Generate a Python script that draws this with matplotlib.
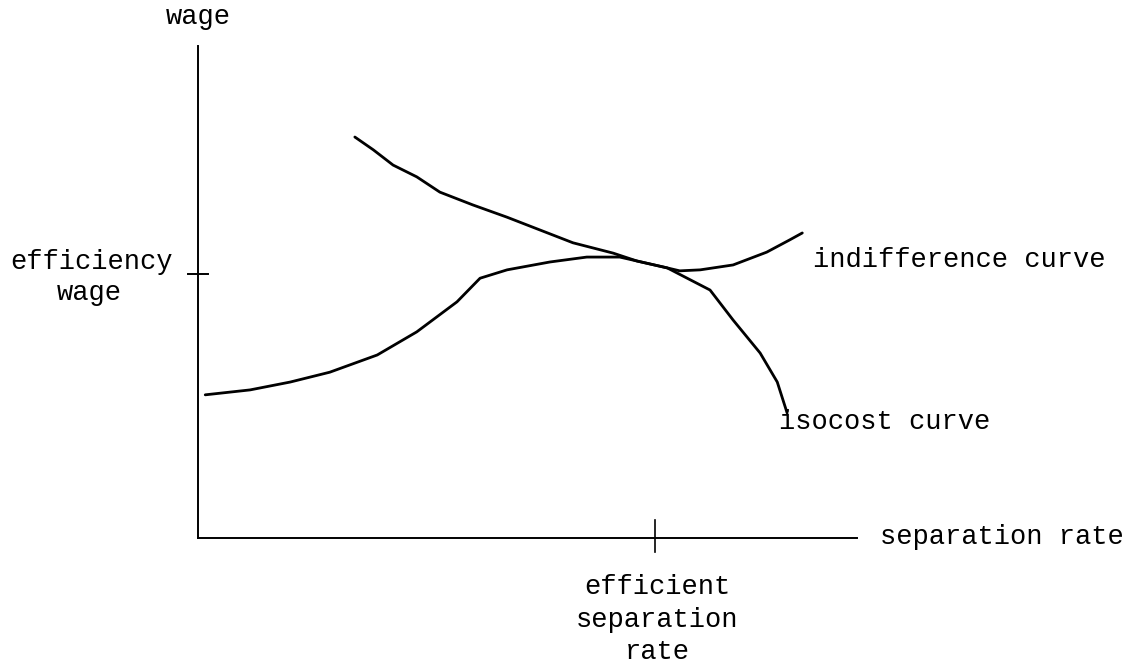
import matplotlib.pyplot as plt

# hand-drawn curves (x: separation rate, y: wage, 0-100 units)
indiff_x = [23.8, 26.6, 29.6, 33.2, 36.7, 41.7, 46.9, 51.9, 56.9, 63.0, 66.6,
            71.2, 73.1, 76.2, 81.2, 86.3, 89.8, 91.7]
indiff_y = [81.5, 78.9, 75.8, 73.4, 70.3, 67.7, 65.2, 62.6, 60.0, 57.9, 56.3,
            54.9, 54.3, 54.5, 55.5, 58.1, 60.6, 62.0]

isocost_x = [1.1, 7.9, 14.0, 20.0, 27.2, 33.2, 39.3, 42.8, 46.9, 53.4, 59.0,
             64.0, 71.2, 77.7, 81.2, 85.3, 87.9, 89.4]
isocost_y = [29.1, 30.1, 31.7, 33.7, 37.2, 41.9, 48.0, 52.8, 54.5, 56.1, 57.1,
             57.1, 54.9, 50.4, 44.3, 37.6, 31.7, 25.4]

eff_wage = 53.7
eff_sep = 69.3

plt.rcParams['font.family'] = ['Liberation Mono', 'DejaVu Sans Mono']
fs = 19.5

fig = plt.figure(figsize=(11.28, 6.68), dpi=100)
ax = fig.add_axes([198 / 1128, 130 / 668, 659 / 1128, 492 / 668])
ax.set_xlim(0, 100)
ax.set_ylim(0, 100)
ax.axis('off')

# axes drawn by hand
ax.plot([0, 0], [0, 100], color='black', lw=1.4, clip_on=False)
ax.plot([0, 100], [0, 0], color='black', lw=1.4, clip_on=False)
ax.plot([-1.5, 1.5], [eff_wage, eff_wage], color='black', lw=1.4, clip_on=False)
ax.plot([eff_sep, eff_sep], [3.7, -2.8], color='black', lw=1.2, clip_on=False)

ax.plot(indiff_x, indiff_y, color='black', lw=2.0, solid_capstyle='round',
        solid_joinstyle='round', clip_on=False)
ax.plot(isocost_x, isocost_y, color='black', lw=2.0, solid_capstyle='round',
        solid_joinstyle='round', clip_on=False)

kw = dict(fontsize=fs, color='black', va='center', clip_on=False)
ax.text(0, 105.9, 'wage', ha='center', **kw)
ax.text(-16.2, 56.1, 'efficiency', ha='center', **kw)
ax.text(-16.5, 49.8, 'wage', ha='center', **kw)
ax.text(93.3, 56.5, 'indifference curve', ha='left', **kw)
ax.text(88.2, 23.6, 'isocost curve', ha='left', **kw)
ax.text(103.5, 0.2, 'separation rate', ha='left', **kw)
ax.text(eff_sep + 0.4, -10.0, 'efficient', ha='center', **kw)
ax.text(eff_sep + 0.4, -16.7, 'separation', ha='center', **kw)
ax.text(eff_sep + 0.4, -23.2, 'rate', ha='center', **kw)

fig.savefig('out.png', dpi=100)
